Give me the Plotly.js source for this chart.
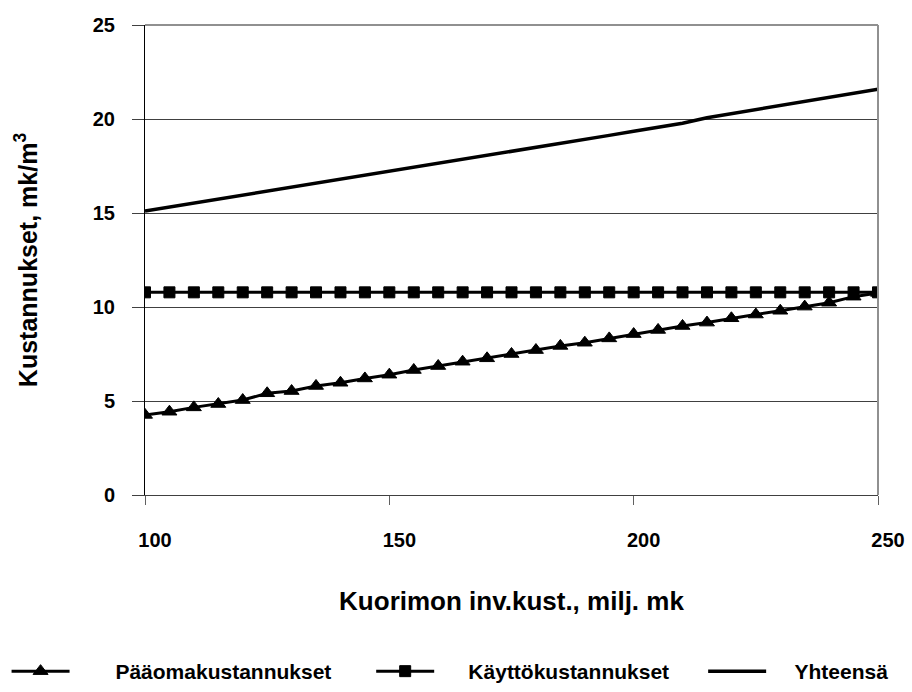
<!DOCTYPE html>
<html>
<head>
<meta charset="utf-8">
<script src="https://cdn.plot.ly/plotly-3.0.1.min.js"></script>
<style>html,body{margin:0;padding:0;background:#fff;}#chart{width:912px;height:692px;}</style>
</head>
<body>
<div id="chart"></div>
<script>
// Data
const investment = [100,105,110,115,120,125,130,135,140,145,150,155,160,165,170,175,180,185,190,195,200,205,210,215,220,225,230,235,240,245,250];
const paaomakustannukset = [4.26,4.43,4.66,4.84,5.05,5.41,5.53,5.80,5.97,6.20,6.40,6.65,6.86,7.09,7.27,7.50,7.71,7.93,8.10,8.33,8.56,8.78,8.99,9.17,9.40,9.60,9.80,10.02,10.23,10.55,10.75];
const kayttokustannukset = [10.78,10.78,10.78,10.78,10.78,10.78,10.78,10.78,10.78,10.78,10.78,10.78,10.78,10.78,10.78,10.78,10.78,10.78,10.78,10.78,10.78,10.78,10.78,10.78,10.78,10.78,10.78,10.78,10.78,10.78,10.78];
const yhteensa = [15.10,15.31,15.52,15.74,15.95,16.16,16.37,16.59,16.80,17.01,17.22,17.43,17.65,17.86,18.07,18.28,18.50,18.71,18.92,19.13,19.35,19.56,19.77,20.07,20.29,20.50,20.72,20.93,21.15,21.36,21.58];
const seriesNames = ["Pääomakustannukset","Käyttökustannukset","Yhteensä"];
const xTicks = [100,150,200,250];
const yTicks = [0,5,10,15,20,25];

const sp = n => "\u00a0".repeat(n);
const FONT = "Liberation Sans, Arial, sans-serif";

const traces = [
  {x: investment, y: paaomakustannukset, name: sp(7) + seriesNames[0], legend: "legend", type: "scatter", mode: "lines+markers",
   line: {color: "#000", width: 3}, marker: {symbol: "triangle-up", size: 13, color: "#000", line: {color: "#000", width: 1}}},
  {x: investment, y: kayttokustannukset, name: sp(5) + seriesNames[1], legend: "legend2", type: "scatter", mode: "lines+markers",
   line: {color: "#000", width: 3}, marker: {symbol: "square", size: 11, color: "#000", line: {color: "#000", width: 1}}},
  {x: investment, y: yhteensa, name: sp(4) + seriesNames[2], legend: "legend3", type: "scatter", mode: "lines",
   line: {color: "#000", width: 3.5}}
];

const legendBase = (xpos) => ({
  orientation: "h", xref: "container", yref: "container",
  x: xpos, xanchor: "left", y: -0.024, yanchor: "bottom",
  itemwidth: 58,
  font: {family: FONT, size: 21, weight: "bold", color: "#000"},
  bgcolor: "rgba(0,0,0,0)"
});

const layout = {
  width: 912, height: 692,
  paper_bgcolor: "#fff", plot_bgcolor: "#fff",
  margin: {l: 145, r: 34, t: 25, b: 197},
  font: {family: FONT, color: "#000"},
  showlegend: true,
  legend: legendBase(0.0072),
  legend2: legendBase(0.4070),
  legend3: legendBase(0.7710),
  xaxis: {
    range: [100, 250], tickvals: xTicks, ticktext: xTicks.map(String),
    showgrid: false, zeroline: false,
    showline: true, linecolor: "#404040", linewidth: 1,
    ticks: "outside", ticklen: 9, tickcolor: "#606060",
    ticklabelstandoff: 18, ticklabelshift: 10,
    tickfont: {family: FONT, size: 20, weight: "bold", color: "#000"},
    title: {text: "Kuorimon inv.kust., milj. mk", font: {family: FONT, size: 26, weight: "bold", color: "#000"}, standoff: 41}
  },
  yaxis: {
    range: [0, 25], tickvals: yTicks, ticktext: yTicks.map(String),
    showgrid: true, gridcolor: "#404040", gridwidth: 1, zeroline: false,
    showline: true, linecolor: "#000", linewidth: 1,
    ticks: "outside", ticklen: 12, tickcolor: "#404040",
    ticklabelstandoff: 13,
    tickfont: {family: FONT, size: 20, weight: "bold", color: "#000"},
    title: {text: "Kustannukset, mk/m<sup>3</sup>", font: {family: FONT, size: 25, weight: "bold", color: "#000"}, standoff: 48}
  },
  shapes: [
    {type: "line", xref: "paper", yref: "paper", x0: 1, x1: 1, y0: 0, y1: 1, line: {color: "#909090", width: 2}},
    {type: "line", xref: "paper", yref: "paper", x0: 0, x1: 1, y0: 1, y1: 1, line: {color: "#909090", width: 2}}
  ]
};

Plotly.newPlot("chart", traces, layout, {displayModeBar: false, staticPlot: true});
</script>
</body>
</html>
